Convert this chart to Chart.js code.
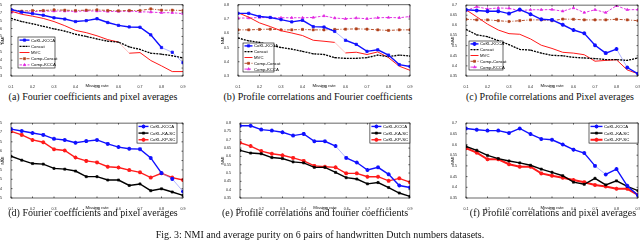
<!DOCTYPE html>
<html><head><meta charset="utf-8">
<script src="https://cdn.jsdelivr.net/npm/chart.js@4.4.0/dist/chart.umd.min.js"></script>
<style>
html,body{margin:0;padding:0;background:#fff;width:640px;height:240px;overflow:hidden;position:relative}
canvas{position:absolute}
.cap{position:absolute;font-family:"Liberation Serif","DejaVu Serif",serif;font-size:10px;line-height:12px;color:#111;white-space:nowrap;transform:translateX(-50%)}
</style></head><body>
<canvas id="ca" width="192" height="88" style="left:0;top:0"></canvas>
<canvas id="cb" width="195" height="88" style="left:220px;top:0"></canvas>
<canvas id="cc" width="194" height="88" style="left:450px;top:0"></canvas>
<canvas id="cd" width="192" height="92" style="left:0;top:118px"></canvas>
<canvas id="ce" width="195" height="92" style="left:220px;top:118px"></canvas>
<canvas id="cf" width="194" height="92" style="left:450px;top:118px"></canvas>
<div class="cap" style="left:93px;top:91px">(a) Fourier coefficients and pixel averages</div>
<div class="cap" style="left:318px;top:91px">(b) Profile correlations and Fourier coefficients</div>
<div class="cap" style="left:550px;top:91px">(c) Profile correlations and Pixel averages</div>
<div class="cap" style="left:93px;top:207px">(d) Fourier coefficients and pixel averages</div>
<div class="cap" style="left:315px;top:207px">(e) Profile correlations and fourier coefficients</div>
<div class="cap" style="left:553px;top:207px">(f) Profile correlations and pixel averages</div>
<div class="cap" style="left:320px;top:229px">Fig. 3: NMI and average purity on 6 pairs of handwritten Dutch numbers datasets.</div>
<script>
// ---------- data ----------
const missingRate = [0.1,0.15,0.2,0.25,0.3,0.35,0.4,0.45,0.5,0.55,0.6,0.65,0.7,0.75,0.8,0.85,0.9];
const xTickLabels = ['0.1','0.2','0.3','0.4','0.5','0.6','0.7','0.8','0.9'];

// (a) Fourier coefficients and pixel averages
const a_cokl   = [0.72,0.704,0.694,0.684,0.668,0.66,0.644,0.65,0.662,0.638,0.62,0.61,0.608,0.56,0.48,0.45,0.384];
const a_concat = [0.664,0.644,0.63,0.614,0.598,0.584,0.564,0.55,0.534,0.52,0.514,0.484,0.468,0.444,0.438,0.428,0.414];
const a_mvc    = [0.71,0.69,0.678,0.664,0.644,0.618,0.588,0.574,0.554,0.53,0.514,0.444,0.448,0.398,0.364,0.328,0.328];
const a_compConcat = [0.72,0.71,0.714,0.714,0.718,0.716,0.714,0.716,0.718,0.714,0.712,0.714,0.714,0.724,0.716,0.716,0.714];
const a_compKcca   = [0.702,0.702,0.706,0.71,0.71,0.71,0.708,0.712,0.71,0.708,0.708,0.71,0.706,0.704,0.7,0.7,0.694];
const a_yTicks = ['0.3','0.35','0.4','0.45','0.5','0.55','0.6','0.65','0.7','0.75'];

// (b) Profile correlations and Fourier coefficients
const b_cokl   = [0.74,0.74,0.718,0.711,0.696,0.68,0.691,0.647,0.644,0.613,0.551,0.522,0.473,0.484,0.447,0.38,0.367];
const b_concat = [0.567,0.547,0.536,0.518,0.5,0.489,0.473,0.456,0.451,0.429,0.424,0.424,0.429,0.447,0.436,0.447,0.44];
const b_mvc    = [0.744,0.713,0.673,0.647,0.618,0.602,0.584,0.551,0.544,0.536,0.462,0.467,0.451,0.469,0.429,0.369,0.34];
const b_compConcat = [0.624,0.624,0.627,0.629,0.624,0.624,0.627,0.624,0.624,0.627,0.629,0.631,0.629,0.624,0.62,0.624,0.624];
const b_compKcca   = [0.707,0.707,0.711,0.709,0.709,0.709,0.709,0.711,0.722,0.707,0.702,0.707,0.702,0.709,0.711,0.709,0.718];
const b_yTicks = ['0.3','0.4','0.5','0.6','0.7','0.8'];

// (c) Profile correlations and Pixel averages
const c_cokl   = [0.677,0.673,0.67,0.67,0.658,0.678,0.655,0.63,0.627,0.603,0.577,0.561,0.502,0.463,0.483,0.392,0.361];
const c_concat = [0.58,0.553,0.544,0.525,0.505,0.481,0.478,0.463,0.452,0.45,0.442,0.439,0.436,0.431,0.431,0.427,0.439];
const c_mvc    = [0.677,0.642,0.606,0.577,0.559,0.556,0.533,0.502,0.486,0.467,0.463,0.455,0.423,0.427,0.43,0.38,0.361];
const c_compConcat = [0.63,0.627,0.627,0.623,0.619,0.623,0.627,0.627,0.623,0.631,0.63,0.627,0.627,0.627,0.63,0.627,0.623];
const c_compKcca   = [0.673,0.692,0.681,0.686,0.684,0.673,0.677,0.677,0.678,0.67,0.686,0.663,0.677,0.663,0.697,0.677,0.678];
const c_yTicks = ['0.35','0.4','0.45','0.5','0.55','0.6','0.65','0.7'];

// (d) Fourier coefficients and pixel averages
const d_kcca = [0.718,0.708,0.697,0.687,0.666,0.66,0.645,0.654,0.66,0.639,0.622,0.613,0.611,0.564,0.483,0.452,0.385];
const d_kasc = [0.573,0.552,0.534,0.531,0.508,0.504,0.494,0.464,0.464,0.446,0.446,0.417,0.425,0.389,0.399,0.382,0.364];
const d_kpsc = [0.706,0.687,0.66,0.648,0.61,0.604,0.566,0.548,0.54,0.517,0.513,0.499,0.487,0.459,0.482,0.459,0.446];
const d_yTicks = ['0.35','0.4','0.45','0.5','0.55','0.6','0.65','0.7','0.75'];

// (e) Profile correlations and fourier coefficients
const e_kcca = [0.784,0.784,0.761,0.755,0.745,0.725,0.735,0.691,0.691,0.662,0.591,0.563,0.518,0.534,0.492,0.425,0.413];
const e_kasc = [0.636,0.62,0.616,0.593,0.587,0.567,0.561,0.534,0.534,0.504,0.472,0.464,0.435,0.443,0.413,0.38,0.36];
const e_kpsc = [0.682,0.662,0.632,0.616,0.607,0.591,0.573,0.543,0.538,0.534,0.498,0.498,0.478,0.478,0.453,0.468,0.445];
const e_yTicks = ['0.35','0.4','0.45','0.5','0.55','0.6','0.65','0.7','0.75','0.8'];

// (f) Profile correlations and pixel averages
const f_kcca = [0.675,0.669,0.665,0.665,0.654,0.675,0.649,0.626,0.622,0.6,0.576,0.56,0.5,0.46,0.485,0.407,0.362];
const f_kasc = [0.591,0.573,0.549,0.534,0.523,0.514,0.503,0.485,0.47,0.454,0.424,0.414,0.442,0.411,0.43,0.404,0.384];
const f_kpsc = [0.583,0.562,0.531,0.531,0.508,0.496,0.496,0.465,0.454,0.445,0.434,0.424,0.411,0.404,0.393,0.393,0.365];
const f_yTicks = ['0.35','0.4','0.45','0.5','0.55','0.6','0.65','0.7'];

// ---------- styles ----------
const BLUE='#1010ff', BLACK='#000000', RED='#ff1a1a', BROWN='#b0401a', MAG='#e020e0';
const LIGHT = {'#1010ff':'#7f86ff', '#ff1a1a':'#ff9a9a'};
const TICKFONT = {family:'"Liberation Sans", Arial, sans-serif', size:3.6};
const TITLEFONT = {family:'"Liberation Sans", Arial, sans-serif', size:4.3};

function pts(vals){ return vals.map((v,i)=>({x:missingRate[i], y:v})); }

function styleFor(kind){
  switch(kind){
    case 'kccaRect': return {borderColor:BLUE, backgroundColor:BLUE, borderWidth:1.4, pointStyle:'rect', pointRadius:1.6, pointBorderWidth:0.8};
    case 'kccaStar': return {borderColor:BLUE, backgroundColor:BLUE, borderWidth:1.4, pointStyle:'star', pointRadius:2, pointBorderWidth:1.1};
    case 'concat':   return {borderColor:BLACK, backgroundColor:BLACK, borderWidth:1.3, borderDash:[2,1], pointStyle:'circle', pointRadius:0.6, pointBorderWidth:0};
    case 'mvc':      return {borderColor:RED, backgroundColor:RED, borderWidth:1, pointRadius:0};
    case 'compConcat': return {borderColor:BROWN, backgroundColor:BROWN, borderWidth:0.9, borderDash:[3,1.5,1,1.5], pointStyle:'rect', pointRadius:1.5, pointBorderWidth:0.6};
    case 'compKcca': return {borderColor:MAG, backgroundColor:MAG, borderWidth:0.9, borderDash:[2.5,1.5], pointStyle:'triangle', pointRadius:1.5, pointBorderWidth:0.6};
    case 'kasc':     return {borderColor:BLACK, backgroundColor:BLACK, borderWidth:1.4, pointStyle:'rect', pointRadius:1.5, pointBorderWidth:0.6};
    case 'kpsc':     return {borderColor:RED, backgroundColor:RED, borderWidth:1.4, pointStyle:'star', pointRadius:2, pointBorderWidth:1.1};
    case 'kpscThick':return {borderColor:RED, backgroundColor:RED, borderWidth:2, pointStyle:'star', pointRadius:2, pointBorderWidth:1.1};
  }
}

// thin: indices of segments (starting point) rendered thin and pale, as in the source image
function ds(label, vals, kind, thin){
  const o = Object.assign({label, data:pts(vals), tension:0, fill:false}, styleFor(kind));
  if(thin && thin.length){
    const bw=o.borderWidth, bc=o.borderColor;
    o.segment = {
      borderWidth: c => thin.includes(c.p0DataIndex) ? 0.6 : bw,
      borderColor: c => thin.includes(c.p0DataIndex) ? (LIGHT[bc]||bc) : bc
    };
  }
  return o;
}

const framePlugin = {
  id:'frame',
  afterDatasetsDraw(chart){
    const ctx=chart.ctx, ca=chart.chartArea;
    ctx.save();
    ctx.strokeStyle='#000'; ctx.lineWidth=0.6;
    ctx.strokeRect(ca.left, ca.top, ca.right-ca.left, ca.bottom-ca.top);
    const xs=chart.scales.x, ys=chart.scales.y;
    ctx.beginPath();
    xs.ticks.forEach(t=>{ const px=xs.getPixelForValue(t.value);
      ctx.moveTo(px,ca.bottom); ctx.lineTo(px,ca.bottom-1.5);
      ctx.moveTo(px,ca.top); ctx.lineTo(px,ca.top+1.5); });
    ys.ticks.forEach(t=>{ const py=ys.getPixelForValue(t.value);
      ctx.moveTo(ca.left,py); ctx.lineTo(ca.left+1.5,py);
      ctx.moveTo(ca.right,py); ctx.lineTo(ca.right-1.5,py); });
    ctx.stroke();
    ctx.restore();
  },
  afterDraw(chart){
    const L = chart.options.plugins.frame && chart.options.plugins.frame.legend;
    if(!L) return;
    const ctx=chart.ctx, ca=chart.chartArea, dsets=chart.data.datasets;
    const w=L.w, h=L.h, rowH=h/dsets.length;
    const x = L.corner[1]==='l' ? ca.left+L.dx : ca.right-L.dx-w;
    const y = L.corner[0]==='t' ? ca.top+L.dy : ca.bottom-L.dy-h;
    ctx.save();
    ctx.fillStyle='#fff'; ctx.fillRect(x,y,w,h);
    ctx.strokeStyle='#000'; ctx.lineWidth=0.6; ctx.strokeRect(x,y,w,h);
    ctx.font = '4.3px "Liberation Sans", Arial, sans-serif';
    ctx.textBaseline='middle';
    dsets.forEach((d,i)=>{
      const cy = y + rowH*(i+0.5);
      const x0 = x+1.5, x1 = x+1.5+L.sw;
      ctx.strokeStyle=d.borderColor; ctx.lineWidth=d.borderWidth;
      ctx.setLineDash(d.borderDash||[]);
      ctx.beginPath(); ctx.moveTo(x0,cy); ctx.lineTo(x1,cy); ctx.stroke();
      ctx.setLineDash([]);
      if(d.pointRadius>0){
        ctx.fillStyle=d.backgroundColor; ctx.strokeStyle=d.borderColor; ctx.lineWidth=d.pointBorderWidth;
        Chart.helpers.drawPoint(ctx,{pointStyle:d.pointStyle, radius:d.pointRadius, rotation:0, borderWidth:d.pointBorderWidth},(x0+x1)/2,cy);
      }
      ctx.fillStyle='#000';
      ctx.fillText(d.label, x1+1.5, cy+0.3);
    });
    ctx.restore();
  }
};

function makeChart(id, datasets, yTicks, geo, legend){
  const yv = yTicks.map(Number);
  const step = +(yv[1]-yv[0]).toFixed(3);
  return new Chart(document.getElementById(id), {
    type:'line',
    data:{datasets},
    plugins:[framePlugin],
    options:{
      responsive:false, animation:false, devicePixelRatio:1,
      layout:{padding:{left:0, right:geo.pr, top:geo.pt, bottom:0}},
      plugins:{legend:{display:false}, tooltip:{enabled:false}, frame:{legend}},
      scales:{
        x:{type:'linear', min:0.1, max:0.9,
           grid:{display:false}, border:{display:false},
           ticks:{stepSize:0.1, font:TICKFONT, color:'#222', padding:0.5, maxRotation:0, autoSkip:false,
                  callback:(v)=>{ const s=(+v).toFixed(1); return xTickLabels.includes(s)?s:''; }},
           title:{display:true, text:'Missing rate', font:TITLEFONT, color:'#111', padding:{top:0.5,bottom:0}},
           afterFit:(s)=>{ s.height=geo.xh; }},
        y:{type:'linear', min:yv[0], max:yv[yv.length-1],
           grid:{display:false}, border:{display:false},
           ticks:{stepSize:step, font:TICKFONT, color:'#222', padding:1,
                  callback:(v)=>{ const s=String(+(+v).toFixed(3)); return yTicks.includes(s)?s:''; }},
           title:{display:true, text:'NMI', font:TITLEFONT, color:'#111', padding:{top:0,bottom:0.5}},
           afterFit:(s)=>{ s.width=geo.yw; }}
      }
    }
  });
}

const top5 = (c,k,m,cc,ck,kk,thinC,thinM)=>[ds('CoKL-KCCA',c,kk,thinC), ds('Concat',k,'concat'), ds('MVC',m,'mvc',thinM), ds('Comp-Concat',cc,'compConcat'), ds('Comp-KCCA',ck,'compKcca')];

makeChart('ca', top5(a_cokl,a_concat,a_mvc,a_compConcat,a_compKcca,'kccaRect',[14,15],[10]), a_yTicks,
  {pr:9, pt:2, xh:12, yw:11}, {corner:'bl', dx:7, dy:8, w:37, h:31, sw:10});
makeChart('cb', top5(b_cokl,b_concat,b_mvc,b_compConcat,b_compKcca,'kccaRect',[9],[9]), b_yTicks,
  {pr:5, pt:2, xh:12, yw:18}, {corner:'bl', dx:5, dy:4, w:31, h:29, sw:8});
makeChart('cc', top5(c_cokl,c_concat,c_mvc,c_compConcat,c_compKcca,'kccaStar',[14],[]), c_yTicks,
  {pr:6, pt:2, xh:12, yw:16}, {corner:'bl', dx:3, dy:6, w:34, h:29, sw:8});

const bot3 = (k,a,p,pk,thinK)=>[ds('CoKL-KCCA',k,'kccaStar',thinK), ds('CoKL-KA-SC',a,'kasc'), ds('CoKL-KP-SC',p,pk)];
makeChart('cd', bot3(d_kcca,d_kasc,d_kpsc,'kpsc',[14,15]), d_yTicks,
  {pr:9, pt:4, xh:12, yw:11}, {corner:'tr', dx:6, dy:0, w:40, h:20, sw:10});
makeChart('ce', bot3(e_kcca,e_kasc,e_kpsc,'kpsc',[9]), e_yTicks,
  {pr:5, pt:4, xh:12, yw:20}, {corner:'tr', dx:0, dy:0, w:40, h:20, sw:10});
makeChart('cf', bot3(f_kcca,f_kasc,f_kpsc,'kpscThick',[12]), f_yTicks,
  {pr:6, pt:4, xh:12, yw:16}, {corner:'tr', dx:0, dy:0, w:49, h:20, sw:12});
</script>
</body></html>
